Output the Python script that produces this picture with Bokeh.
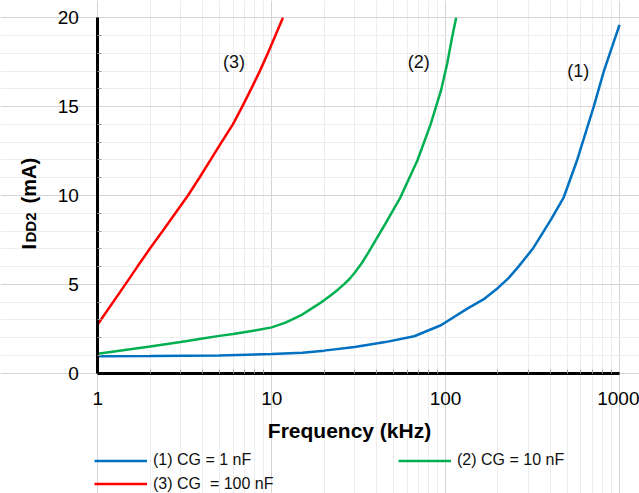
import math
from bokeh.plotting import figure
from bokeh.models import Range1d, FixedTicker, Label, Legend, LegendItem, BasicTickFormatter
from bokeh.embed import file_html
from bokeh.resources import INLINE
from bokeh.core.properties import value

# ---- data ----
freq_1 = [1, 2, 5, 10, 15, 20, 30, 45, 66, 94, 134, 165, 200, 230, 261, 317, 401, 478, 571, 711, 813, 1000]
idd_1 = [0.95, 0.97, 1.0, 1.08, 1.15, 1.27, 1.48, 1.75, 2.08, 2.7, 3.65, 4.15, 4.8, 5.35, 5.97, 7.0, 8.6, 9.9, 12.0, 15.0, 17.0, 19.6]

freq_2 = [1, 2, 3, 4, 5, 6, 8, 10, 12, 15, 18, 20, 22, 24, 26, 28, 30, 33, 36, 45, 55, 69, 82, 94, 102, 109, 115]
idd_2 = [1.1, 1.5, 1.75, 1.95, 2.1, 2.2, 2.4, 2.58, 2.85, 3.3, 3.8, 4.1, 4.4, 4.7, 5.0, 5.3, 5.65, 6.2, 6.8, 8.4, 9.9, 12.0, 14.0, 15.9, 17.4, 18.9, 20.0]

freq_3 = [1, 1.44, 1.69, 1.99, 2.36, 2.79, 3.30, 3.84, 4.45, 5.15, 5.98, 6.77, 7.62, 8.54, 9.5, 10.5, 11.6]
idd_3 = [2.75, 5, 6, 7, 8, 9, 10, 11, 12, 13, 14, 15, 16, 17, 18, 19, 20]

series_names = ["(1) CG = 1 nF", "(2) CG = 10 nF", "(3) CG  = 100 nF"]
series_colors = ["#0070C0", "#00B050", "#FF0000"]
curve_tags = ["(1)", "(2)", "(3)"]
tag_x = [580, 70, 6.07]
tag_y = [17.0, 17.5, 17.5]

x_ticks = [1, 10, 100, 1000]
x_tick_labels = ["1", "10", "100", "1000"]
y_ticks = [0, 5, 10, 15, 20]
x_label = "Frequency (kHz)"
y_label_parts = ["I", "DD2", "(mA)"]

FONT = "Liberation Sans"
W, H = 639, 493
X0_PX, X3_PX = 97.3, 619.0          # pixel columns of x = 1 and x = 1000
Y0_PX, Y20_PX = 372.7, 17.3         # pixel rows of y = 0 and y = 20
DEC = (X3_PX - X0_PX) / 3.0
PPU = (Y0_PX - Y20_PX) / 20.0

def px_to_x(px):
    return 10 ** ((px - X0_PX) / DEC)

def py_to_y(py):
    return (Y0_PX - py) / PPU

# the frame covers the whole canvas; the axes sit at x = 1 and y = 0
p = figure(width=W, height=H, x_axis_type="log",
           x_range=Range1d(px_to_x(0), px_to_x(W)), y_range=Range1d(py_to_y(H), py_to_y(0)),
           output_backend="svg", toolbar_location=None,
           min_border_left=0, min_border_right=0, min_border_top=0, min_border_bottom=0)
p.background_fill_color = "white"
p.border_fill_color = "white"
p.outline_line_color = None

minor_x = [m * 10 ** d for d in range(3) for m in range(2, 10)]
minor_y = [v for v in range(0, 21) if v % 5 != 0]

p.xaxis.ticker = FixedTicker(ticks=x_ticks, minor_ticks=minor_x)
p.yaxis.ticker = FixedTicker(ticks=y_ticks, minor_ticks=minor_y)
p.xaxis.formatter = BasicTickFormatter()
p.xaxis.major_label_overrides = {t: l for t, l in zip(x_ticks, x_tick_labels)}
p.xaxis.fixed_location = 0
p.yaxis.fixed_location = 1
p.xaxis.bounds = (1, 1000)
p.yaxis.bounds = (0, 20)
p.xgrid.bounds = (0, 20)
p.ygrid.bounds = (1, 1000)

for g in (p.xgrid, p.ygrid):
    g.grid_line_color = "#d4d4d4"
    g.grid_line_width = 1
    g.minor_grid_line_color = "#ededed"
    g.minor_grid_line_width = 1

for ax in (p.xaxis, p.yaxis):
    ax.axis_line_color = "black"
    ax.axis_line_width = 3
    ax.major_tick_in = 0
    ax.major_tick_out = 0
    ax.minor_tick_in = 4
    ax.minor_tick_out = 0
    ax.minor_tick_line_color = "#9a9a9a"
    ax.major_label_text_font = FONT
    ax.major_label_text_font_size = "19px"
    ax.major_label_text_color = "black"

p.xaxis.major_label_standoff = 19
p.yaxis.major_label_standoff = 19

renderers = []
for fx, iy, c in zip([freq_1, freq_2, freq_3], [idd_1, idd_2, idd_3], series_colors):
    renderers.append(p.line(fx, iy, line_color=c, line_width=2.5))

# curve tags
for t, tx, ty in zip(curve_tags, tag_x, tag_y):
    p.add_layout(Label(x=tx, y=ty, text=t, text_align="center", text_baseline="middle",
                       text_font=FONT, text_font_size="18px", text_color="#111111"))

# x-axis title
p.add_layout(Label(x=px_to_x(349), y=py_to_y(430), text=x_label, text_align="center",
                   text_baseline="middle", text_font=FONT, text_font_size="21px",
                   text_font_style="bold", text_color="black"))

# y-axis title with subscript
p.add_layout(Label(x=px_to_x(28), y=py_to_y(249), text=y_label_parts[0], angle=math.pi / 2,
                   text_align="left", text_baseline="alphabetic", text_font=FONT,
                   text_font_size="20px", text_font_style="bold", text_color="black"))
p.add_layout(Label(x=px_to_x(30), y=py_to_y(242), text=y_label_parts[1], angle=math.pi / 2,
                   text_align="left", text_baseline="alphabetic", text_font=FONT,
                   text_font_size="15px", text_font_style="bold", text_color="black"))
p.add_layout(Label(x=px_to_x(28), y=py_to_y(203), text=y_label_parts[2], angle=math.pi / 2,
                   text_align="left", text_baseline="alphabetic", text_font=FONT,
                   text_font_size="20px", text_font_style="bold", text_color="black"))

# legends below the plot area
legend_pos = [(94, 22.5), (398, 22.5), (94, -1)]
for name, r, loc in zip(series_names, renderers, legend_pos):
    lg = Legend(items=[LegendItem(label=value(name), renderers=[r])], location=loc,
                padding=0, margin=0, border_line_alpha=0, background_fill_alpha=0,
                glyph_width=53, glyph_height=21, label_height=21, label_standoff=6,
                label_text_font=FONT, label_text_font_size="16px", label_text_color="#111111",
                label_text_baseline="middle")
    p.add_layout(lg)

open("out.html", "w").write(file_html(p, INLINE))
